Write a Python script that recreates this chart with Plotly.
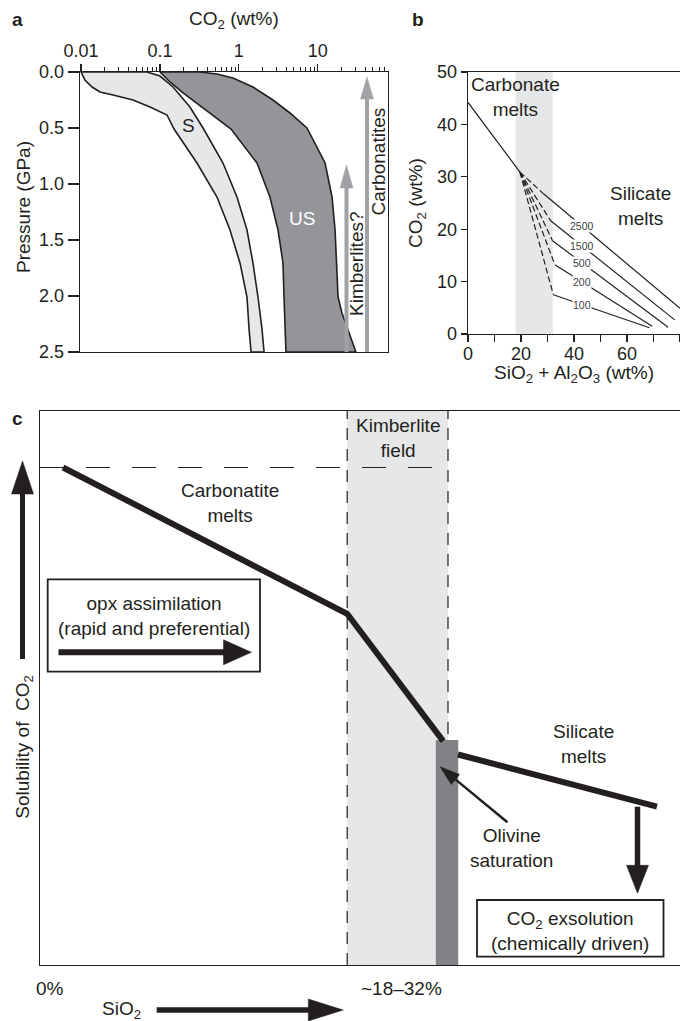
import numpy as np
import plotly.graph_objects as go

W, H = 680, 1021
FONT = "Liberation Sans, Arial, Helvetica, sans-serif"
INK = "#231f20"
LIGHT = "#e6e7e8"
MID = "#939598"
DARK = "#808285"
ARROW_GREY = "#a0a2a5"

# ---------------- Panel a data (CO2 wt% vs pressure GPa) ----------------
s_left_p = [0, 0.071, 0.134, 0.179, 0.205, 0.25, 0.3125, 0.384, 0.509, 0.8125, 1.116, 1.411, 1.705, 2.009, 2.30, 2.5]
s_left_co2 = [0.0100, 0.0112, 0.0138, 0.0174, 0.0254, 0.0456, 0.0749, 0.123, 0.151, 0.295, 0.529, 0.773, 1.035, 1.27, 1.35, 1.43]
s_right_p = [0, 0.036, 0.134, 0.3125, 0.5, 0.8125, 1.116, 1.411, 1.705, 2.009, 2.30, 2.5]
s_right_co2 = [0.0686, 0.100, 0.1465, 0.240, 0.352, 0.630, 0.948, 1.27, 1.51, 1.75, 1.97, 2.09]
us_left_p = [0, 0.027, 0.089, 0.179, 0.277, 0.384, 0.509, 0.8125, 1.116, 1.411, 1.705, 2.009, 2.30, 2.5]
us_left_co2 = [0.100, 0.109, 0.134, 0.191, 0.295, 0.471, 0.796, 1.70, 2.48, 3.14, 3.63, 3.74, 3.85, 3.96]
us_right_p = [0, 0.018, 0.054, 0.134, 0.25, 0.366, 0.5, 0.8125, 1.116, 1.411, 1.705, 2.009, 2.152, 2.30, 2.5]
us_right_co2 = [0.322, 0.529, 0.843, 1.51, 2.71, 4.45, 7.31, 12.4, 15.2, 16.6, 17.5, 18.1, 20.3, 24.2, 30.5]
a_xtick_vals = [0.01, 0.1, 1, 10]
a_xtick_text = ["0.01", "0.1", "1", "10"]
a_ytick_vals = [0, 0.5, 1.0, 1.5, 2.0, 2.5]

# ---------------- Panel b data ----------------
b_band = [18, 32]
carb_x = [0, 19.6]
carb_y = [44.2, 30.9]
iso_labels = ["2500", "1500", "500", "200", "100"]
iso_dash_start = [19.6, 30.9]
iso_solid_start_x = [28.4, 31.2, 31.9, 32.8, 32.2]
iso_solid_start_y = [26.8, 21.6, 17.8, 13.2, 7.5]
iso_end_x = [80, 78, 75.5, 69.5, 68.5]
iso_end_y = [4.9, 2.7, 1.3, 1.5, 1.2]
iso_label_x = 43
b_xtick_vals = [0, 20, 40, 60]
b_ytick_vals = [0, 10, 20, 30, 40, 50]

# ---------------- Panel c data (schematic units 0-100) ----------------
carbonatite_x = [3.6, 48.0, 63.0]
carbonatite_y = [89.8, 63.4, 40.4]
silicate_x = [65.3, 96.4]
silicate_y = [38.0, 28.6]
kimberlite_field = [48.0, 63.75]
olivine_band = [61.85, 65.35]
olivine_top = 40.6
saturation_level = 89.8

fig = go.Figure()

# ---------- helpers ----------
def P(x, y):
    return x / W, 1 - y / H

def text(x, y, s, size=19, color=INK, angle=0, xanchor="center"):
    px_, py_ = P(x, y)
    fig.add_annotation(xref="paper", yref="paper", x=px_, y=py_, text=s, showarrow=False,
                       font=dict(size=size, color=color, family=FONT), textangle=angle,
                       xanchor=xanchor, yanchor="middle")

def arrow(x0, y0, x1, y1, lw, hl, hw, color=INK):
    dx, dy = x1 - x0, y1 - y0
    L = (dx * dx + dy * dy) ** 0.5
    ux, uy = dx / L, dy / L
    bx, by = x1 - ux * hl, y1 - uy * hl
    nx, ny = -uy, ux
    a0 = P(x0, y0)
    a1 = P(bx + ux * 2, by + uy * 2)
    fig.add_shape(type="line", xref="paper", yref="paper", x0=a0[0], y0=a0[1], x1=a1[0], y1=a1[1],
                  line=dict(color=color, width=lw))
    pts = [(x1, y1), (bx + nx * hw / 2, by + ny * hw / 2), (bx - nx * hw / 2, by - ny * hw / 2)]
    path = "M" + " L".join("%.5f,%.5f" % P(*p) for p in pts) + " Z"
    fig.add_shape(type="path", xref="paper", yref="paper", path=path, fillcolor=color,
                  line=dict(color=color, width=0.5))

def box(x0, y0, x1, y1, lw=1.8):
    a, b = P(x0, y0), P(x1, y1)
    fig.add_shape(type="rect", xref="paper", yref="paper", x0=a[0], y0=a[1], x1=b[0], y1=b[1],
                  line=dict(color=INK, width=lw), fillcolor="rgba(0,0,0,0)")

# ---------- Panel a ----------
def band(lp, lc, rp, rc):
    xs = list(lc) + list(rc)[::-1] + [lc[0]]
    ys = list(lp) + list(rp)[::-1] + [lp[0]]
    return xs, ys

for (lp, lc, rp, rc, col) in [(s_left_p, s_left_co2, s_right_p, s_right_co2, LIGHT),
                              (us_left_p, us_left_co2, us_right_p, us_right_co2, MID)]:
    xs, ys = band(lp, lc, rp, rc)
    fig.add_trace(go.Scatter(x=xs, y=ys, xaxis="x", yaxis="y", mode="lines", fill="toself",
                             fillcolor=col, line=dict(color=INK, width=1.6),
                             hoverinfo="skip", showlegend=False))

# ---------- Panel b ----------
fig.add_shape(type="rect", xref="x2", yref="y2 domain", x0=b_band[0], x1=b_band[1], y0=0, y1=1,
              fillcolor=LIGHT, line=dict(width=0), layer="below")
fig.add_trace(go.Scatter(x=carb_x, y=carb_y, xaxis="x2", yaxis="y2", mode="lines",
                         line=dict(color=INK, width=1.2), hoverinfo="skip", showlegend=False))
for i, lab in enumerate(iso_labels):
    fig.add_trace(go.Scatter(x=[iso_dash_start[0], iso_solid_start_x[i]],
                             y=[iso_dash_start[1], iso_solid_start_y[i]],
                             xaxis="x2", yaxis="y2", mode="lines",
                             line=dict(color=INK, width=1.2, dash="6px,3px"),
                             hoverinfo="skip", showlegend=False))
    fig.add_trace(go.Scatter(x=[iso_solid_start_x[i], iso_end_x[i]],
                             y=[iso_solid_start_y[i], iso_end_y[i]],
                             xaxis="x2", yaxis="y2", mode="lines",
                             line=dict(color=INK, width=1.2),
                             hoverinfo="skip", showlegend=False))
    ly = np.interp(iso_label_x, [iso_solid_start_x[i], iso_end_x[i]],
                   [iso_solid_start_y[i], iso_end_y[i]])
    fig.add_annotation(xref="x2", yref="y2", x=iso_label_x, y=ly, text=lab, showarrow=False,
                       font=dict(size=10.5, color="#414042", family=FONT), bgcolor="white",
                       borderpad=0)

# ---------- Panel c ----------
fig.add_shape(type="rect", xref="x3", yref="y3 domain", x0=kimberlite_field[0], x1=kimberlite_field[1],
              y0=0, y1=1, fillcolor=LIGHT, line=dict(width=0), layer="below")
fig.add_shape(type="rect", xref="x3", yref="y3", x0=olivine_band[0], x1=olivine_band[1],
              y0=0, y1=olivine_top, fillcolor=DARK, line=dict(width=0), layer="below")
fig.add_shape(type="line", xref="x3", yref="y3", x0=0, x1=kimberlite_field[1],
              y0=saturation_level, y1=saturation_level,
              line=dict(color=INK, width=1.2, dash="24px,22px"), layer="below")
for xv in kimberlite_field:
    fig.add_shape(type="line", xref="x3", yref="y3 domain", x0=xv, x1=xv, y0=0, y1=1,
                  line=dict(color=INK, width=1.2, dash="12px,9px"), layer="below")
fig.add_trace(go.Scatter(x=carbonatite_x, y=carbonatite_y, xaxis="x3", yaxis="y3", mode="lines",
                         line=dict(color=INK, width=6), hoverinfo="skip", showlegend=False))
fig.add_trace(go.Scatter(x=silicate_x, y=silicate_y, xaxis="x3", yaxis="y3", mode="lines",
                         line=dict(color=INK, width=6), hoverinfo="skip", showlegend=False))

# ---------- arrows, boxes ----------
arrow(346.5, 352, 346.5, 165, 4, 23, 13, ARROW_GREY)
arrow(367, 352, 367, 77, 4, 22, 13, ARROW_GREY)
arrow(22.5, 659, 22.5, 461, 5, 33, 22)
arrow(58.5, 652.3, 251.5, 652.3, 6, 28, 25)
arrow(507.4, 822.3, 440, 766.7, 2.5, 20, 13)
arrow(637.5, 806.7, 637.5, 893.3, 5.5, 28, 22)
arrow(156.7, 1010, 343.3, 1010, 5.5, 35, 22)
box(47.7, 579.3, 260, 671.7)
box(477, 900, 663.5, 956.7)

# ---------- texts ----------
text(17, 20, "<b>a</b>", size=19)
text(418, 20, "<b>b</b>", size=19)
text(17, 418, "<b>c</b>", size=19)
text(234, 20, "CO<sub>2</sub> (wt%)")
text(24, 207, "Pressure (GPa)", angle=-90)
text(188, 125, "S")
text(302, 218, "US", color="white")
text(357, 264, "Kimberlites?", angle=-90)
text(378.5, 162, "Carbonatites", angle=-90)
text(515, 96.5, "Carbonate<br>melts")
text(640, 206, "Silicate<br>melts")
text(417, 203, "CO<sub>2</sub> (wt%)", angle=-90)
text(574, 374, "SiO<sub>2</sub> + Al<sub>2</sub>O<sub>3</sub> (wt%)")
text(397.5, 438, "Kimberlite<br>field")
text(230, 503, "Carbonatite<br>melts")
text(154, 615.7, "opx assimilation<br>(rapid and preferential)")
text(24, 746.7, "Solubility of\u00a0 CO<sub>2</sub>", angle=-90)
text(583, 744.3, "Silicate<br>melts")
text(511.7, 848, "Olivine<br>saturation")
text(570, 931, "CO<sub>2</sub> exsolution<br>(chemically driven)")
text(50, 988, "0%")
text(401.7, 988, "~18\u201332%")
text(121.7, 1010, "SiO<sub>2</sub>")

# ---------- axes ----------
axis_common = dict(showgrid=False, zeroline=False, linecolor=INK, linewidth=1.3, automargin=False,
                   tickcolor=INK, tickwidth=1.2, tickfont=dict(size=18, color=INK, family=FONT))
minor_a = [m * 10.0 ** e for e in (-2, -1, 0, 1) for m in range(2, 10) if m * 10.0 ** e < 78]
fig.update_layout(
    width=W, height=H, margin=dict(l=0, r=0, t=0, b=0, autoexpand=False), autosize=False,
    paper_bgcolor="white", plot_bgcolor="rgba(0,0,0,0)", showlegend=False,
    font=dict(family=FONT, size=19, color=INK),
    xaxis=dict(domain=[80 / W, 388 / W], type="log", range=[-2.013, 1.891], side="top", anchor="y",
               showline=True, mirror=True, ticks="outside", ticklen=7,
               tickvals=a_xtick_vals, ticktext=a_xtick_text,
               minor=dict(tickvals=minor_a, ticks="outside", ticklen=4, tickwidth=1, tickcolor=INK),
               **axis_common),
    yaxis=dict(domain=[1 - 352 / H, 1 - 72 / H], range=[2.5, 0], anchor="x",
               showline=True, mirror=True, ticks="outside", ticklen=11,
               tickvals=a_ytick_vals, tickformat=".1f", **axis_common),
    xaxis2=dict(domain=[468 / W, 1], range=[0, 80], anchor="y2", showline=True, mirror=True,
                ticks="outside", ticklen=7, tickvals=b_xtick_vals, ticklabelstandoff=-4,
                minor=dict(dtick=10, tick0=0, ticks="outside", ticklen=7, tickwidth=1.2, tickcolor=INK),
                **axis_common),
    yaxis2=dict(domain=[1 - 334 / H, 1 - 72 / H], range=[0, 50], anchor="x2", showline=True,
                ticks="outside", ticklen=6, tickvals=b_ytick_vals, **axis_common),
    xaxis3=dict(domain=[40 / W, 1], range=[0, 100], anchor="y3", showline=True, mirror=True,
                showticklabels=False, ticks="", **axis_common),
    yaxis3=dict(domain=[1 - 965 / H, 1 - 411 / H], range=[0, 100], anchor="x3", showline=True,
                showticklabels=False, ticks="", **axis_common),
)

fig.write_html("out.html", config={"displayModeBar": False, "staticPlot": True},
               post_script="document.body.style.margin='0';document.body.style.overflow='hidden';")
